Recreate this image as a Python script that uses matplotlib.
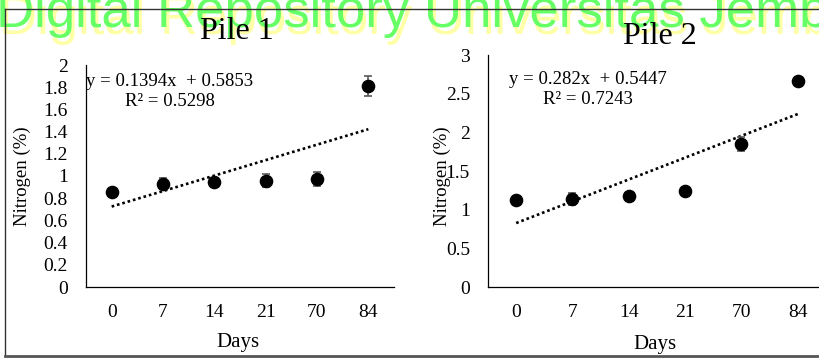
import matplotlib.pyplot as plt
from matplotlib.lines import Line2D
import numpy as np

# data
days = ["0", "7", "14", "21", "70", "84"]

pile1 = [0.855, 0.93, 0.947, 0.957, 0.972, 1.81]
pile1_err = [0.01, 0.05, 0.03, 0.06, 0.06, 0.09]
pile1_fit = (0.1394, 0.5853)
pile1_eq = ["y = 0.1394x  + 0.5853", "R² = 0.5298"]

pile2 = [1.125, 1.14, 1.18, 1.235, 1.85, 2.67]
pile2_err = [0.01, 0.08, 0.01, 0.01, 0.09, 0.01]
pile2_fit = (0.282, 0.5447)
pile2_eq = ["y = 0.282x  + 0.5447", "R² = 0.7243"]

W, H = 820, 359
plt.rcParams['font.family'] = ['Liberation Serif', 'DejaVu Serif']

fig = plt.figure(figsize=(W / 100, H / 100), dpi=100)


def px(x, y):
    # pixel position -> figure fraction
    return x / W, 1 - y / H


# watermark
wm = "Digital Repository Universitas Jember"
fig.text(*px(-1, 34), wm, color='#ffffa8', fontsize=38, family='Liberation Sans',
         va='baseline', ha='left', zorder=0)
fig.text(*px(-4, 27), wm, color='#66ff66', fontsize=38, family='Liberation Sans',
         va='baseline', ha='left', zorder=1)

# frame lines
for (x0, y0, x1, y1, c, lw) in [(5, 9, 820, 9, '#333333', 1.0),
                                (5, 9, 5, 356, '#333333', 1.0),
                                (5, 356, 820, 356, '#555555', 2.0)]:
    fig.add_artist(Line2D([x0 / W, x1 / W], [1 - y0 / H, 1 - y1 / H],
                          transform=fig.transFigure, color=c, lw=lw, zorder=5))

panels = [
    dict(rect=(86, 65, 394, 287), vals=pile1, err=pile1_err, fit=pile1_fit, eq=pile1_eq,
         ymax=2, step=0.2, title="Pile 1", tpos=(237, 39), eqc=(170, 82),
         xlab=(238, 343), ylab=(22, 176)),
    dict(rect=(488, 55, 826, 287), vals=pile2, err=pile2_err, fit=pile2_fit, eq=pile2_eq,
         ymax=3, step=0.5, title="Pile 2", tpos=(660, 44), eqc=(588, 80),
         xlab=(655, 345), ylab=(442, 176)),
]

for p in panels:
    l, t, r, b = p['rect']
    ax = fig.add_axes([l / W, 1 - b / H, (r - l) / W, (b - t) / H])
    x = np.arange(len(days))
    ax.errorbar(x, p['vals'], yerr=p['err'], fmt='o', color='black', ms=8.8,
                ecolor='#595959', elinewidth=1.2, capsize=3, capthick=1.2, zorder=3)
    slope, icpt = p['fit']
    ax.plot(x, slope * (x + 1) + icpt, color='black', lw=1.9,
            linestyle=(0, (1, 1.1)), zorder=2)

    ax.set_xlim(-0.5, len(days) - 0.5)
    ax.set_ylim(0, p['ymax'])
    ticks = np.round(np.arange(0, p['ymax'] + 1e-9, p['step']), 2)
    ax.set_yticks(ticks)
    ax.set_yticklabels(["%g" % v for v in ticks])
    ax.set_xticks(x)
    ax.set_xticklabels(days)
    ax.tick_params(length=0, labelsize=14, colors='black')
    ax.tick_params(axis='y', pad=13)
    ax.tick_params(axis='x', pad=12)
    for s in ['top', 'right']:
        ax.spines[s].set_visible(False)
    for s in ['left', 'bottom']:
        ax.spines[s].set_linewidth(0.9)
    ax.patch.set_alpha(0)

    fig.text(*px(*p['tpos']), p['title'], fontsize=23, ha='center', va='baseline')
    cx, cy = p['eqc']
    fig.text(*px(cx, cy), p['eq'][0], fontsize=13.5, ha='center', va='center')
    fig.text(*px(cx, cy + 20), p['eq'][1], fontsize=13.5, ha='center', va='center')
    fig.text(*px(*p['xlab']), "Days", fontsize=15, ha='center', va='center')
    fig.text(*px(*p['ylab']), "Nitrogen (%)", fontsize=13.5, ha='center', va='center',
             rotation=90)

fig.savefig("out.png", dpi=100)
